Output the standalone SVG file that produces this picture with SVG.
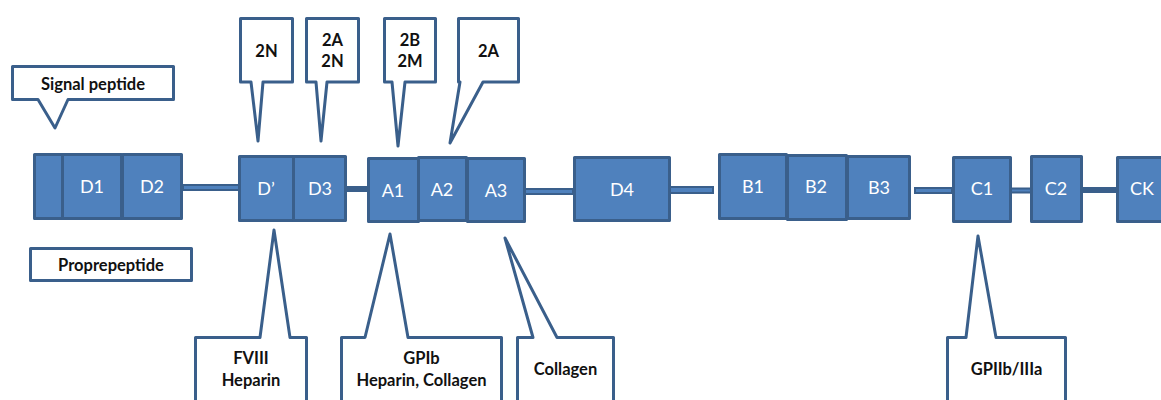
<svg xmlns="http://www.w3.org/2000/svg" width="1161" height="400" viewBox="0 0 1161 400">
<style>
.blk{fill:#4F81BD;stroke:#3A5F8B;stroke-width:3;stroke-linejoin:round}
.lnk{fill:#4F81BD;stroke:#3A5F8B;stroke-width:2}
.sol{fill:#3A5F8B;stroke:none}
.co{fill:#fff;stroke:#3A5F8B;stroke-width:3;stroke-linejoin:round}
.bl{font-family:Lato,"Liberation Sans",sans-serif;font-size:18px;fill:#fff;text-anchor:middle}
.cl{font-family:Lato,"Liberation Sans",sans-serif;font-size:16.5px;font-weight:bold;fill:#111;text-anchor:middle}
</style>
<rect width="1161" height="400" fill="#fff"/>
<g id="connectors">
<rect class="lnk" x="183" y="185" width="57" height="5"/>
<rect class="sol" x="346" y="186" width="22" height="6"/>
<rect class="lnk" x="524" y="189" width="49" height="5"/>
<rect class="lnk" x="670" y="187" width="43" height="6"/>
<rect class="lnk" x="915" y="188" width="37" height="5"/>
<rect class="lnk" x="1011" y="188.5" width="20" height="4"/>
<rect class="sol" x="1082" y="187" width="35" height="6"/>
</g>
<g id="signal"><rect class="blk" x="34.5" y="154.5" width="28" height="64"/></g>
<g id="D1"><rect class="blk" x="62.5" y="154.5" width="59" height="64"/><text class="bl" x="92" y="193">D1</text></g>
<g id="D2"><rect class="blk" x="122.5" y="154.5" width="59" height="64"/><text class="bl" x="152" y="193">D2</text></g>
<g id="Dprime"><rect class="blk" x="239.5" y="156.5" width="54" height="64"/><text class="bl" x="266" y="195">D’</text></g>
<g id="D3"><rect class="blk" x="293.5" y="156.5" width="52" height="64"/><text class="bl" x="320" y="195">D3</text></g>
<g id="A1"><rect class="blk" x="368.5" y="158.5" width="50" height="63"/><text class="bl" x="393" y="197">A1</text></g>
<g id="A2"><rect class="blk" x="418.5" y="157.5" width="48" height="63"/><text class="bl" x="442" y="196">A2</text></g>
<g id="A3"><rect class="blk" x="467.5" y="158.5" width="57" height="63"/><text class="bl" x="496" y="197">A3</text></g>
<g id="D4"><rect class="blk" x="574.5" y="157.5" width="95" height="63"/><text class="bl" x="622" y="196">D4</text></g>
<g id="B1"><rect class="blk" x="719.5" y="154.5" width="67" height="64"/><text class="bl" x="753" y="193">B1</text></g>
<g id="B2"><rect class="blk" x="787.5" y="155.5" width="59" height="64"/><text class="bl" x="816" y="193">B2</text></g>
<g id="B3"><rect class="blk" x="847.5" y="156.5" width="62" height="62"/><text class="bl" x="879" y="194">B3</text></g>
<g id="C1"><rect class="blk" x="953.5" y="157.5" width="57" height="64"/><text class="bl" x="982" y="195">C1</text></g>
<g id="C2"><rect class="blk" x="1031.5" y="156.5" width="50" height="65"/><text class="bl" x="1056" y="195">C2</text></g>
<g id="CK"><rect class="blk" x="1117.5" y="157.5" width="60" height="64"/><text class="bl" x="1142" y="195">CK</text></g>
<g id="c-signal"><path class="co" d="M12.5,66.5 H173.5 V99.5 H68 L55,128 L38,99.5 H12.5 Z"/><text class="cl" x="93" y="90">Signal peptide</text></g>
<g id="c-prop"><rect class="co" x="30.5" y="248.5" width="161" height="32"/><text class="cl" x="111" y="271">Proprepeptide</text></g>
<g id="c-2N"><path class="co" d="M240.5,18.5 H292.5 V82 H263 L258,141 L251,82 H240.5 Z"/><text class="cl" x="266.5" y="57">2N</text></g>
<g id="c-2A2N"><path class="co" d="M306.5,18.5 H358.5 V82 H327 L321,141 L316,82 H306.5 Z"/><text class="cl" x="332.5" y="46">2A</text><text class="cl" x="332.5" y="67">2N</text></g>
<g id="c-2B2M"><path class="co" d="M384.5,18.5 H435.5 V82 H405 L398,146 L392,82 H384.5 Z"/><text class="cl" x="410" y="46">2B</text><text class="cl" x="410" y="67">2M</text></g>
<g id="c-2A"><path class="co" d="M458.5,18.5 H518.5 V82 H483 L450,143 L460,82 H458.5 Z"/><text class="cl" x="488.5" y="57">2A</text></g>
<g id="c-FVIII"><path class="co" d="M195.5,337.5 H260 L274,230 L290,337.5 H306.5 V410 H195.5 Z"/><text class="cl" x="251" y="364">FVIII</text><text class="cl" x="251" y="386">Heparin</text></g>
<g id="c-GPIb"><path class="co" d="M341.5,337.5 H365 L390,234 L408,337.5 H501.5 V410 H341.5 Z"/><text class="cl" x="421.5" y="364">GPIb</text><text class="cl" x="421.5" y="386">Heparin, Collagen</text></g>
<g id="c-Coll"><path class="co" d="M517.5,337.5 H533 L505,238 L557,337.5 H613.5 V410 H517.5 Z"/><text class="cl" x="565.5" y="375">Collagen</text></g>
<g id="c-GPIIb"><path class="co" d="M947.5,337.5 H966 L978,236 L996,337.5 H1065.5 V410 H947.5 Z"/><text class="cl" x="1006.5" y="375">GPIIb/IIIa</text></g>
</svg>
